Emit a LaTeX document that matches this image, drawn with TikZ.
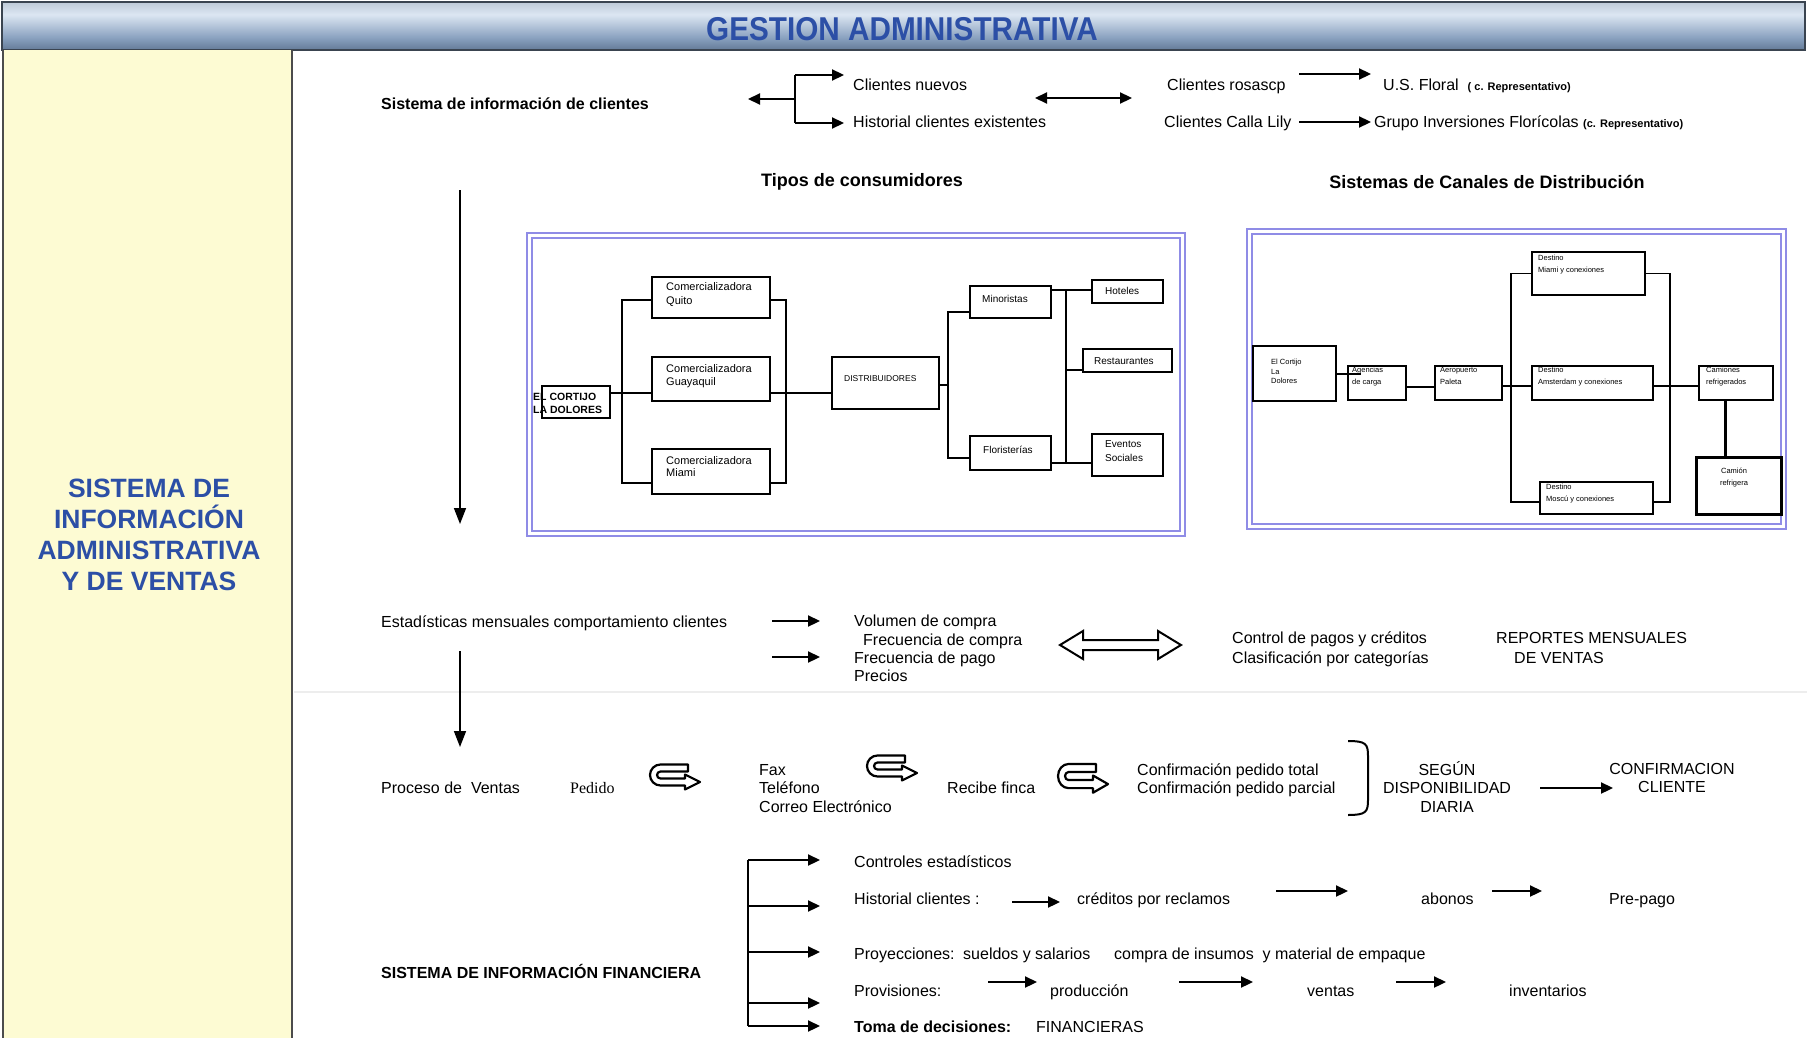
\documentclass[tikz,border=0pt]{standalone}
\usepackage{fontspec}
\setmainfont{Liberation Sans}
\newfontfamily\seriffont{Liberation Serif}
\newfontfamily\narrowfont[FakeStretch=0.9]{Liberation Sans}
\usetikzlibrary{arrows.meta}

\definecolor{titleblue}{HTML}{2C4FA6}
\definecolor{panelyellow}{HTML}{FDFBD3}
\definecolor{framevio}{HTML}{8F8CE6}
\definecolor{hdrA}{HTML}{1A2230}
\definecolor{hdrB}{HTML}{465C78}
\definecolor{hdrC}{HTML}{8AA2C0}
\definecolor{hdrD}{HTML}{DCE6F2}
\definecolor{hdrE}{HTML}{A3B2C2}
\definecolor{hdrF}{HTML}{3A4450}
\pgfdeclareverticalshading{hdrbar}{100bp}{color(0bp)=(hdrA); color(15bp)=(hdrB); color(38bp)=(hdrC); color(62bp)=(hdrD); color(86bp)=(hdrE); color(100bp)=(hdrF)}

\begin{document}
\begin{tikzpicture}[x=1pt,y=-1pt,
  txt/.style={font=\fontsize{16}{19}\selectfont, inner sep=0pt, anchor=west, text height=11.5pt, text depth=3.5pt},
  btxt/.style={txt, font=\fontsize{16}{19}\selectfont\bfseries},
  heading/.style={font=\fontsize{18}{21}\selectfont\bfseries, inner sep=0pt},
  arr/.style={line width=2.2pt, -{Triangle[length=12pt,width=11pt]}},
  darr/.style={line width=2.2pt, {Triangle[length=12pt,width=11pt]}-{Triangle[length=12pt,width=11pt]}},
  varr/.style={line width=1.6pt, -{Triangle[length=16pt,width=12pt]}},
  vframe/.style={draw=framevio, line width=2.2pt},
  dbox/.style={draw, line width=1.6pt, inner sep=0pt},
  wire/.style={line width=1.6pt},
  wiretwo/.style={line width=1.3pt},
  boxtxt/.style={font=\fontsize{11}{14}\selectfont, inner sep=0pt, anchor=north west, align=left},
  tinytxt/.style={font=\fontsize{7.5}{12}\selectfont, inner sep=0pt, anchor=north west, align=left},
  uturn/.pic={
    \draw[line width=2.2pt, fill=white, line join=round]
      (38,-3.5) -- (10.5,-3.5) arc[start angle=270, end angle=90, radius=10.5]
      -- (35,17.5) -- (35,21.5) -- (50,14) -- (35,6.5) -- (35,10.5) -- (10.5,10.5)
      arc[start angle=90, end angle=270, radius=3.5] -- (38,3.5) -- cycle;
  },
]
% page and bounding box
\fill[white] (0,0) rectangle (1807,1038);
\useasboundingbox (0,0) rectangle (1807,1038);

% header bar
\shade[shading=hdrbar, draw=hdrF, line width=1.5pt] (2,2) rectangle (1805,50);
\node[font=\narrowfont\fontsize{33}{36}\selectfont\bfseries, text=titleblue, inner sep=0pt] (title) at (902,29) {GESTION ADMINISTRATIVA};

% left panel
\fill[panelyellow] (3,50) rectangle (292,1038);
\draw[line width=2pt, black!70] (3,50) -- (3,1038) (292,50) -- (292,1038);
\node[font=\fontsize{26.5}{31}\selectfont\bfseries, text=titleblue, align=center, inner sep=0pt] (side) at (149,535)
  {SISTEMA DE\\INFORMACIÓN\\ADMINISTRATIVA\\Y DE VENTAS};

% faint scan line
\draw[line width=2pt, black!7] (294,692) -- (1807,692);

% ---------------- client information row
\node[btxt] (sic) at (381,106) {Sistema de información de clientes};
\coordinate (fork) at (795,99);
\coordinate (forkL) at (748,99);
\coordinate (forkT) at (795,75);
\coordinate (forkB) at (795,123);
\node[txt] (cn) at (853,87) {Clientes nuevos};
\node[txt] (hce) at (853,124) {Historial clientes existentes};
\draw[arr] (fork) -- (forkL);
\draw[line width=2.2pt] (forkT) -- (forkB);
\draw[arr] (forkT) -- (forkT -| 844,0);
\draw[arr] (forkB) -- (forkB -| 844,0);
\coordinate (dA) at (1035,98);
\coordinate (dB) at (1132,98);
\draw[darr] (dA) -- (dB);
\node[txt] (cr) at (1167,87) {Clientes rosascp};
\node[txt] (usf) at (1383,87) {U.S. Floral\ \ {\fontsize{11}{13}\selectfont\bfseries ( c. Representativo)}};
\node[txt] (ccl) at (1164,124) {Clientes Calla Lily};
\node[txt] (gif) at (1374,124) {Grupo Inversiones Florícolas {\fontsize{11}{13}\selectfont\bfseries (c. Representativo)}};
\coordinate (rA) at (1299,74);
\coordinate (rB) at (1371,74);
\coordinate (lA) at (1299,122);
\coordinate (lB) at (1371,122);
\draw[arr] (rA) -- (rB);
\draw[arr] (lA) -- (lB);

% headings
\node[heading] (tipos) at (862,182) {Tipos de consumidores};
\node[heading] (canales) at (1487,182) {Sistemas de Canales de Distribución};

\coordinate (vA) at (460,190);
\coordinate (vB) at (460,524);
\draw[varr] (vA) -- (vB);

% ---------------- consumer types diagram
\draw[vframe] (527,233) rectangle (1185,536);
\draw[vframe] (532,238) rectangle (1180,531);

\node[font=\fontsize{10.5}{13}\selectfont\bfseries, inner sep=0pt, anchor=west, align=left] (corttxt) at (533,403) {EL CORTIJO\\LA DOLORES};
\node[dbox, minimum width=68, minimum height=32] (cort) at (576,402) {};
\node[dbox, minimum width=118, minimum height=41] (quito) at (711,297.5) {};
\node[dbox, minimum width=118, minimum height=44] (guay) at (711,379) {};
\node[dbox, minimum width=118, minimum height=45] (miami) at (711,471.5) {};
\node[dbox, minimum width=107, minimum height=52] (dist) at (885.5,383) {};
\node[dbox, minimum width=81, minimum height=32] (mino) at (1010.5,302) {};
\node[dbox, minimum width=81, minimum height=34] (flor) at (1010.5,453) {};
\node[dbox, minimum width=71, minimum height=23] (hot) at (1127.5,291.5) {};
\node[dbox, minimum width=89, minimum height=23] (rest) at (1127.5,360.5) {};
\node[dbox, minimum width=71, minimum height=42] (even) at (1127.5,455) {};

\node[boxtxt] (quitotxt) at (666,282) {Comercializadora\\Quito};
\node[boxtxt, font=\fontsize{11}{13}\selectfont] (guaytxt) at (666,364) {Comercializadora\\Guayaquil};
\node[boxtxt, font=\fontsize{11}{12.5}\selectfont] (miamitxt) at (666,456) {Comercializadora\\Miami};
\node[font=\fontsize{8.5}{10}\selectfont, inner sep=0pt, anchor=west] (disttxt) at (844,379) {DISTRIBUIDORES};
\node[font=\fontsize{10}{12}\selectfont, inner sep=0pt, anchor=west] (minotxt) at (982,299) {Minoristas};
\node[font=\fontsize{10}{12}\selectfont, inner sep=0pt, anchor=west] (flortxt) at (983,450) {Floristerías};
\node[font=\fontsize{10}{12}\selectfont, inner sep=0pt, anchor=west] (hottxt) at (1105,291) {Hoteles};
\node[font=\fontsize{10}{12}\selectfont, inner sep=0pt, anchor=west] (resttxt) at (1094,361) {Restaurantes};
\node[font=\fontsize{10}{14}\selectfont, inner sep=0pt, anchor=west, align=left] (eventxt) at (1105,451) {Eventos\\Sociales};

\coordinate (b1t) at (622,300); \coordinate (b1m) at (622,393); \coordinate (b1b) at (622,483);
\coordinate (b2t) at (786,300); \coordinate (b2m) at (786,393); \coordinate (b2b) at (786,483);
\coordinate (b3t) at (948,312); \coordinate (b3m) at (948,385); \coordinate (b3b) at (948,458);
\coordinate (b4t) at (1066,290); \coordinate (b4m) at (1066,370); \coordinate (b4b) at (1066,463);

\draw[wire] (b1t -| quito.west) -- (b1t) -- (b1b) -- (b1b -| miami.west);
\draw[wire] (cort.east |- b1m) -- (b1m -| guay.west);
\draw[wire] (b2t -| quito.east) -- (b2t) -- (b2b) -- (b2b -| miami.east);
\draw[wire] (b2m -| guay.east) -- (b2m -| dist.west);
\draw[wire] (dist.east |- b3m) -- (b3m);
\draw[wire] (b3t -| mino.west) -- (b3t) -- (b3b) -- (b3b -| flor.west);
\draw[wire] (b4t -| mino.east) -- (b4t -| hot.west);
\draw[wire] (b4t) -- (b4b);
\draw[wire] (b4m) -- (b4m -| rest.west);
\draw[wire] (b4b -| flor.east) -- (b4b -| even.west);

% ---------------- distribution channels diagram
\draw[vframe] (1247,229) rectangle (1786,529);
\draw[vframe] (1252,234) rectangle (1781,524);

\node[dbox, line width=1.3pt, minimum width=83, minimum height=55] (cort2) at (1294.5,373.5) {};
\node[dbox, line width=1.3pt, minimum width=58, minimum height=34] (agen) at (1377,383) {};
\node[dbox, line width=1.3pt, minimum width=67, minimum height=34] (aero) at (1468.5,383) {};
\node[dbox, line width=1.3pt, minimum width=113, minimum height=43] (dmia) at (1588.5,273.5) {};
\node[dbox, line width=1.3pt, minimum width=121, minimum height=34] (dams) at (1592.5,383) {};
\node[dbox, line width=1.3pt, minimum width=113, minimum height=32] (dmos) at (1596.5,498) {};
\node[dbox, line width=1.3pt, minimum width=74, minimum height=34] (cami) at (1736,383) {};
\node[dbox, line width=3pt, minimum width=85, minimum height=57] (crefr) at (1738.5,485.5) {};

\node[tinytxt, font=\fontsize{7.5}{9.5}\selectfont] (cort2txt) at (1271,359) {El Cortijo\\La\\Dolores};
\node[tinytxt] (agentxt) at (1352,367) {Agencias\\de carga};
\node[tinytxt] (aerotxt) at (1440,367) {Aeropuerto\\Paleta};
\node[tinytxt] (dmiatxt) at (1538,255) {Destino\\Miami y conexiones};
\node[tinytxt] (damstxt) at (1538,367) {Destino\\Amsterdam y conexiones};
\node[tinytxt] (dmostxt) at (1546,484) {Destino\\Moscú y conexiones};
\node[tinytxt] (camitxt) at (1706,367) {Camiones\\refrigerados};
\node[tinytxt, anchor=center, align=center] (crefrtxt) at (1734,478) {Camión\\refrigera};

\coordinate (k1) at (1361,374);
\draw[line width=2.4pt] (k1 -| cort2.east) -- (k1);
\coordinate (k2) at (1420,387);
\draw[wiretwo] (k2 -| agen.east) -- (k2 -| aero.west);
\coordinate (b5t) at (1511,273.5); \coordinate (b5m) at (1511,386); \coordinate (b5b) at (1511,502);
\coordinate (b6t) at (1670,273.5); \coordinate (b6m) at (1670,386); \coordinate (b6b) at (1670,502);
\draw[wiretwo] (aero.east |- b5m) -- (b5m -| dams.west);
\draw[wiretwo] (b5t -| dmia.west) -- (b5t) -- (b5b) -- (b5b -| dmos.west);
\draw[wiretwo] (b6t -| dmia.east) -- (b6t) -- (b6b) -- (b6b -| dmos.east);
\draw[wiretwo] (b6m -| dams.east) -- (b6m -| cami.west);
\coordinate (k3) at (1725,430);
\draw[line width=3pt] (k3 |- cami.south) -- (k3 |- crefr.north);

% ---------------- monthly statistics row
\node[txt] (est) at (381,623) {Estadísticas mensuales comportamiento clientes};
\coordinate (eA) at (772,621); \coordinate (eB) at (820,621);
\coordinate (fA) at (772,657); \coordinate (fB) at (820,657);
\draw[arr] (eA) -- (eB);
\draw[arr] (fA) -- (fB);
\node[txt] (vol) at (854,622) {Volumen de compra};
\node[txt] (frc) at (863,641) {Frecuencia de compra};
\node[txt] (frp) at (854,659) {Frecuencia de pago};
\node[txt] (pre) at (854,677) {Precios};
\draw[line width=2pt, fill=white, line join=miter]
  (1060,645) -- (1083,631) -- (1083,640) -- (1158,640) -- (1158,631) -- (1181,645)
  -- (1158,659) -- (1158,650) -- (1083,650) -- (1083,659) -- cycle;
\node[txt] (cpc) at (1232,639) {Control de pagos y créditos};
\node[txt] (cpcat) at (1232,659) {Clasificación por categorías};
\node[txt] (rep1) at (1496,639) {REPORTES MENSUALES};
\node[txt] (rep2) at (1514,659) {DE VENTAS};
\coordinate (wA) at (460,651); \coordinate (wB) at (460,747);
\draw[varr] (wA) -- (wB);

% ---------------- sales process row
\node[txt] (pv) at (381,789) {Proceso de\ \ Ventas};
\node[txt, font=\seriffont\fontsize{16}{19}\selectfont] (ped) at (570,789) {Pedido};
\pic at (650,768) {uturn};
\node[txt] (fax) at (759,771) {Fax};
\node[txt] (tel) at (759,789) {Teléfono};
\node[txt] (corr) at (759,808) {Correo Electrónico};
\pic at (867,759) {uturn};
\node[txt] (rf) at (947,789) {Recibe finca};
\pic[yscale=1.15] at (1058,768) {uturn};
\node[txt] (cpt) at (1137,771) {Confirmación pedido total};
\node[txt] (cpp) at (1137,789) {Confirmación pedido parcial};
\draw[line width=2pt] (1348,741) .. controls (1366,741) and (1368,744) .. (1368,756)
  -- (1368,800) .. controls (1368,812) and (1366,815) .. (1348,815);
\node[font=\fontsize{16}{18.5}\selectfont, align=center, inner sep=0pt] (segun) at (1447,787) {SEGÚN\\DISPONIBILIDAD\\DIARIA};
\coordinate (cA) at (1540,788); \coordinate (cB) at (1613,788);
\draw[arr] (cA) -- (cB);
\node[font=\fontsize{16}{18.5}\selectfont, align=center, inner sep=0pt] (conf) at (1672,778) {CONFIRMACION\\CLIENTE};

% ---------------- financial information
\node[btxt] (sif) at (381,974) {SISTEMA DE INFORMACIÓN FINANCIERA};
\coordinate (gT) at (748,860);
\coordinate (gB) at (748,1026);
\draw[line width=2.2pt] (gT) -- (gB);
\foreach \yy in {860,906,952,1003,1026} {
  \draw[arr] (748,\yy) -- (820,\yy);
}
\node[txt] (ce) at (854,863) {Controles estadísticos};
\node[txt] (hc) at (854,900) {Historial clientes :};
\node[txt] (cpr) at (1077,900) {créditos por reclamos};
\node[txt] (abo) at (1421,900) {abonos};
\node[txt] (pp) at (1609,900) {Pre-pago};
\coordinate (h1) at (1012,902); \coordinate (h2) at (1060,902);
\coordinate (h3) at (1276,891); \coordinate (h4) at (1348,891);
\coordinate (h5) at (1492,891); \coordinate (h6) at (1542,891);
\draw[arr] (h1) -- (h2);
\draw[arr] (h3) -- (h4);
\draw[arr] (h5) -- (h6);
\node[txt] (proy) at (854,955) {Proyecciones:};
\node[txt] (sue) at (963,955) {sueldos y salarios};
\node[txt] (cin) at (1114,955) {compra de insumos\ \ y material de empaque};
\node[txt] (prov) at (854,992) {Provisiones:};
\node[txt] (prod) at (1050,992) {producción};
\node[txt] (ven) at (1307,992) {ventas};
\node[txt] (inv) at (1509,992) {inventarios};
\coordinate (p1) at (988,982); \coordinate (p2) at (1037,982);
\coordinate (p3) at (1179,982); \coordinate (p4) at (1253,982);
\coordinate (p5) at (1396,982); \coordinate (p6) at (1446,982);
\draw[arr] (p1) -- (p2);
\draw[arr] (p3) -- (p4);
\draw[arr] (p5) -- (p6);
\node[btxt] (toma) at (854,1028) {Toma de decisiones:};
\node[txt] (fin) at (1036,1028) {FINANCIERAS};
\end{tikzpicture}
\end{document}
